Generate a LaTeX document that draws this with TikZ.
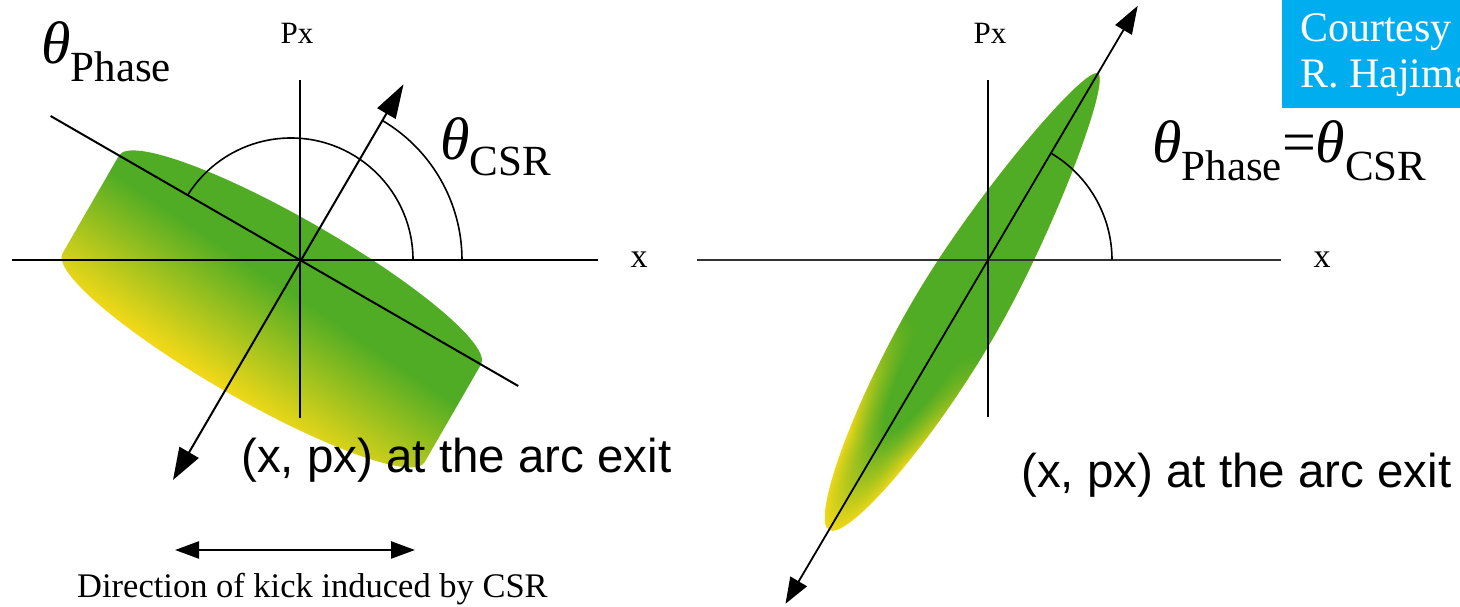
\documentclass[tikz,border=0pt]{standalone}
\usepackage{fontspec}
\setmainfont{Liberation Serif}
\newfontfamily\arialf{Liberation Sans}
\usetikzlibrary{arrows.meta,calc,fadings}
\definecolor{cg}{RGB}{80,172,36}
\definecolor{cy}{RGB}{240,216,24}
\definecolor{cbox}{RGB}{0,174,239}
\pgfdeclareverticalshading{gyL}{100bp}{color(0bp)=(cy); color(27bp)=(cy); color(56bp)=(cg); color(100bp)=(cg)}
\pgfdeclareradialshading{ringR}{\pgfpoint{0bp}{0bp}}{color(0bp)=(cg); color(14bp)=(cg); color(25bp)=(cy); color(50bp)=(cy)}
\tikzfading[name=fadeR, left color=transparent!100, right color=transparent!0]
\begin{document}
\begin{tikzpicture}[x=1pt,y=1pt,
  axL/.style={line width=2pt,black},
  axR/.style={line width=2pt,black!80},
  lnL/.style={line width=2pt,black},
  arcs/.style={line width=1.6pt,black},
  lbl/.style={inner sep=0pt},
  th/.style={inner sep=0pt,anchor=base west,font=\fontsize{60}{60}\selectfont}]
\useasboundingbox (0,0) rectangle (1460,607);
\fill[white] (0,0) rectangle (1460,607);
\coordinate (O1) at (300,347);
\coordinate (O2) at (988,347);

% ---------- left beam shape ----------
\begin{scope}[transform canvas={shift={(300pt,347pt)},rotate=-30}]
  \shade[shading=gyL, shading angle=-4]
    (209,0) arc[start angle=0,end angle=180,x radius=209,y radius=38]
    -- (-209,-113) arc[start angle=180,end angle=360,x radius=209,y radius=38] -- cycle;
\end{scope}

% ---------- right beam shape ----------
\begin{scope}[transform canvas={shift={(963.4pt,305.2pt)},rotate=59.5}]
  \shade[shading=ringR]
    (265,0) .. controls (265,15) and (100,44) .. (-20,44)
    .. controls (-150,44) and (-265,20) .. (-265,0)
    .. controls (-265,-20) and (-150,-44) .. (-20,-44)
    .. controls (100,-44) and (265,-15) .. (265,0) -- cycle;
  \begin{scope}
    \clip (265,0) .. controls (265,15) and (100,44) .. (-20,44)
    .. controls (-150,44) and (-265,20) .. (-265,0)
    .. controls (-265,-20) and (-150,-44) .. (-20,-44)
    .. controls (100,-44) and (265,-15) .. (265,0) -- cycle;
    \fill[cg, path fading=fadeR] (-170,-50) rectangle (-40,50);
    \fill[cg] (-40.5,-50) rectangle (270,50);
  \end{scope}
\end{scope}

% ---------- left axes ----------
\coordinate (Lxa) at (12,347);
\coordinate (Lxb) at (598,347);
\coordinate (Lya) at (300,527);
\coordinate (Lyb) at (300,189);
\draw[axL] (Lxa) -- (Lxb);
\draw[axL] (Lya) -- (Lyb);
\coordinate (Pa) at ($(O1)+(150:288)$);
\coordinate (Pb) at ($(O1)+(-30:252)$);
\draw[lnL] (Pa) -- (Pb);
\coordinate (Ca) at ($(O1)+(240:254)$);
\coordinate (Cb) at ($(O1)+(59.5:204)$);
\draw[lnL,{Triangle[length=32pt,width=22pt]}-{Triangle[length=34pt,width=21pt]}] (Ca) -- (Cb);
% arcs
\coordinate (A1) at (291,347);
\draw[arcs] ($(A1)+(0:122)$) arc[start angle=0,end angle=148,radius=122];
\draw[arcs] ($(O1)+(0:162)$) arc[start angle=0,end angle=59.5,radius=162];

% ---------- right axes ----------
\coordinate (Rxa) at (697,347);
\coordinate (Rxb) at (1281,347);
\coordinate (Rya) at (988,527);
\coordinate (Ryb) at (988,190);
\draw[axR,line width=2.3pt] (Rxa) -- (Rxb);
\draw[axL,line width=1.8pt] (Rya) -- (Ryb);
\coordinate (Da) at ($(O2)+(239.5:399)$);
\coordinate (Db) at ($(O2)+(59.5:295)$);
\draw[lnL,line width=1.8pt,{Triangle[length=26pt,width=19pt]}-{Triangle[length=28pt,width=19pt]}] (Da) -- (Db);
\draw[arcs] ($(O2)+(0:124)$) arc[start angle=0,end angle=59.5,radius=124];

% ---------- kick arrow ----------
\coordinate (Ka) at (175,57);
\coordinate (Kb) at (415,57);
\draw[line width=2.4pt,{Triangle[length=24pt,width=17pt]}-{Triangle[length=24pt,width=17pt]}] (Ka) -- (Kb);

% ---------- labels ----------
\node[lbl,anchor=base] (px1) at (297,563) {\fontsize{31}{31}\selectfont Px};
\node[lbl,anchor=base] (px2) at (990,563) {\fontsize{31}{31}\selectfont Px};
\node[lbl,anchor=base] (x1) at (639,339) {\fontsize{34}{34}\selectfont x};
\node[lbl,anchor=base] (x2) at (1322,339) {\fontsize{34}{34}\selectfont x};

\node[th] (thp) at (41,543) {\itshape θ\upshape\raisebox{-18pt}{\fontsize{43}{43}\selectfont Phase}};
\node[th] (thc) at (440,447) {\itshape θ\upshape\raisebox{-16pt}{\fontsize{43}{43}\selectfont CSR}};
\node[th] (the) at (1152,444) {\itshape θ\upshape\raisebox{-18pt}{\fontsize{43}{43}\selectfont Phase}=\itshape θ\upshape\raisebox{-18pt}{\fontsize{43}{43}\selectfont CSR}};

\node[lbl,anchor=base west] (t1) at (241,134) {\arialf\fontsize{47.5}{47.5}\selectfont (x, px) at the arc exit};
\node[lbl,anchor=base west] (t2) at (1021,119) {\arialf\fontsize{47.5}{47.5}\selectfont (x, px) at the arc exit};
\node[lbl,anchor=base west] (t3) at (77,9) {\fontsize{34.5}{34.5}\selectfont Direction of kick induced by CSR};

% ---------- courtesy box ----------
\fill[cbox] (1282,499) rectangle (1460,607);
\begin{scope}
  \clip (1282,499) rectangle (1460,607);
  \node[lbl,anchor=base west,text=white] (c1) at (1300,565) {\fontsize{42}{42}\selectfont Courtesy};
  \node[lbl,anchor=base west,text=white] (c2) at (1300,519) {\fontsize{42}{42}\selectfont R. Hajima};
\end{scope}
\end{tikzpicture}
\end{document}
